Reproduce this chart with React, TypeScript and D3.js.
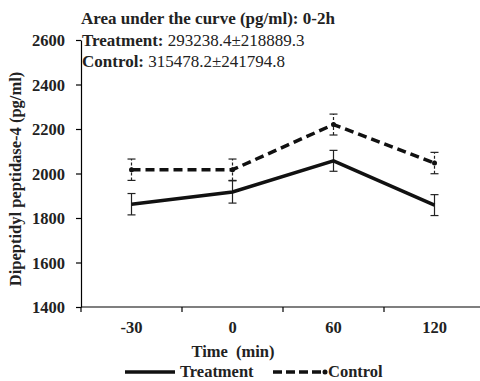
import { useEffect, useRef } from "react"
import * as d3 from "d3"

// time points (min)
const timePoints = ["-30", "0", "60", "120"]
// mean values (pg/ml)
const treatmentMean = [1862, 1917, 2057, 1858]
const treatmentErr = [48, 50, 47, 47]
const controlMean = [2017, 2017, 2220, 2047]
const controlErr = [48, 48, 47, 48]
const yTicks = [1400, 1600, 1800, 2000, 2200, 2400, 2600]

const FONT = "'Liberation Serif', 'Times New Roman', serif"
const FS = "16.5px"

export default function App() {
  const svgRef = useRef<SVGSVGElement | null>(null)

  useEffect(() => {
    if (!svgRef.current) return
    const svg = d3.select(svgRef.current)
    svg.selectAll("*").remove()

    const left = 81
    const right = 485
    const top = 40
    const bottom = 307

    const x = d3.scaleBand<string>().domain(timePoints).range([left, right]).padding(0)
    const y = d3.scaleLinear().domain([1400, 2600]).range([bottom, top])
    const cx = (t: string) => (x(t) as number) + x.bandwidth() / 2

    // y axis
    const yAxis = svg
      .append("g")
      .attr("transform", `translate(${left},0)`)
      .call(d3.axisLeft(y).tickValues(yTicks).tickSize(5).tickSizeOuter(0).tickFormat(d3.format("d")))
    yAxis.select(".domain").attr("stroke", "#000").attr("stroke-width", 1.2)
    yAxis.selectAll(".tick line").attr("stroke", "#000").attr("stroke-width", 1.2)
    yAxis
      .selectAll(".tick text")
      .attr("x", -16)
      .attr("dy", "0.34em")
      .attr("font-family", FONT)
      .attr("font-weight", "bold")
      .attr("font-size", FS)
      .attr("fill", "#222")

    // x axis
    const xAxis = svg
      .append("g")
      .attr("transform", `translate(0,${bottom})`)
    xAxis
      .append("line")
      .attr("x1", left)
      .attr("x2", right)
      .attr("stroke", "#000")
      .attr("stroke-width", 1.2)
    xAxis
      .selectAll(".xt")
      .data([...timePoints.map((t) => x(t) as number), right])
      .enter()
      .append("line")
      .attr("x1", (d) => d)
      .attr("x2", (d) => d)
      .attr("y1", 0)
      .attr("y2", 5)
      .attr("stroke", "#000")
      .attr("stroke-width", 1.2)
    xAxis
      .selectAll(".xl")
      .data(timePoints)
      .enter()
      .append("text")
      .attr("x", (d) => cx(d))
      .attr("y", 26)
      .attr("text-anchor", "middle")
      .attr("font-family", FONT)
      .attr("font-weight", "bold")
      .attr("font-size", FS)
      .attr("fill", "#222")
      .text((d) => d)

    // axis titles
    svg
      .append("text")
      .attr("x", 233)
      .attr("y", 357)
      .attr("text-anchor", "middle")
      .attr("font-family", FONT)
      .attr("font-weight", "bold")
      .attr("font-size", FS)
      .attr("fill", "#222")
      .attr("xml:space", "preserve")
      .text("Time  (min)")

    svg
      .append("text")
      .attr("transform", `translate(21,179) rotate(-90)`)
      .attr("text-anchor", "middle")
      .attr("font-family", FONT)
      .attr("font-weight", "bold")
      .attr("font-size", FS)
      .attr("fill", "#222")
      .text("Dipeptidyl peptidase-4 (pg/ml)")

    // error bars
    const drawErr = (mean: number[], err: number[], dash: string | null, cls: string) => {
      const g = svg.append("g")
      const items = timePoints.map((t, i) => ({ t, m: mean[i], e: err[i] }))
      const sel = g.selectAll(`.${cls}`).data(items).enter().append("g")
      sel
        .append("line")
        .attr("x1", (d) => cx(d.t))
        .attr("x2", (d) => cx(d.t))
        .attr("y1", (d) => y(d.m - d.e))
        .attr("y2", (d) => y(d.m + d.e))
        .attr("stroke", "#222")
        .attr("stroke-width", 1.2)
        .attr("stroke-dasharray", dash)
      ;[-1, 1].forEach((s) => {
        sel
          .append("line")
          .attr("x1", (d) => cx(d.t) - 4)
          .attr("x2", (d) => cx(d.t) + 4)
          .attr("y1", (d) => y(d.m + s * d.e))
          .attr("y2", (d) => y(d.m + s * d.e))
          .attr("stroke", "#222")
          .attr("stroke-width", 1.2)
      })
    }
    drawErr(controlMean, controlErr, "3,2", "ce")
    drawErr(treatmentMean, treatmentErr, null, "te")

    const line = d3
      .line<number>()
      .x((_, i) => cx(timePoints[i]))
      .y((d) => y(d))

    svg
      .append("path")
      .datum(controlMean)
      .attr("d", line)
      .attr("fill", "none")
      .attr("stroke", "#111")
      .attr("stroke-width", 3.5)
      .attr("stroke-dasharray", "9,5")
    svg
      .selectAll(".cdot")
      .data(controlMean)
      .enter()
      .append("circle")
      .attr("cx", (_, i) => cx(timePoints[i]))
      .attr("cy", (d) => y(d))
      .attr("r", 2.5)
      .attr("fill", "#111")

    svg
      .append("path")
      .datum(treatmentMean)
      .attr("d", line)
      .attr("fill", "none")
      .attr("stroke", "#111")
      .attr("stroke-width", 3.5)

    // AUC annotation
    const ann = svg
      .append("g")
      .attr("font-family", FONT)
      .attr("font-size", "17px")
      .attr("fill", "#222")
    ann
      .append("text")
      .attr("x", 81)
      .attr("y", 24)
      .attr("font-weight", "bold")
      .text("Area under the curve (pg/ml): 0-2h")
    const t1 = ann.append("text").attr("x", 82).attr("y", 45.5)
    t1.append("tspan").attr("font-weight", "bold").text("Treatment: ")
    t1.append("tspan").text("293238.4±218889.3")
    const t2 = ann.append("text").attr("x", 82).attr("y", 67)
    t2.append("tspan").attr("font-weight", "bold").text("Control: ")
    t2.append("tspan").text("315478.2±241794.8")

    // legend
    const lg = svg.append("g").attr("transform", "translate(0,372)")
    lg.append("line").attr("x1", 125).attr("x2", 175).attr("stroke", "#111").attr("stroke-width", 3.5)
    lg.append("text")
      .attr("x", 180)
      .attr("y", 5)
      .attr("font-family", FONT)
      .attr("font-weight", "bold")
      .attr("font-size", FS)
      .attr("fill", "#222")
      .text("Treatment")
    lg.append("line")
      .attr("x1", 273)
      .attr("x2", 322)
      .attr("stroke", "#111")
      .attr("stroke-width", 3.5)
      .attr("stroke-dasharray", "9,4")
    lg.append("circle").attr("cx", 325).attr("cy", 0).attr("r", 2.5).attr("fill", "#111")
    lg.append("text")
      .attr("x", 328)
      .attr("y", 5)
      .attr("font-family", FONT)
      .attr("font-weight", "bold")
      .attr("font-size", FS)
      .attr("fill", "#222")
      .text("Control")
  }, [])

  return (
    <svg
      ref={svgRef}
      width={480}
      height={381}
      style={{ position: "absolute", left: 0, top: 0, background: "#fff" }}
    />
  )
}
